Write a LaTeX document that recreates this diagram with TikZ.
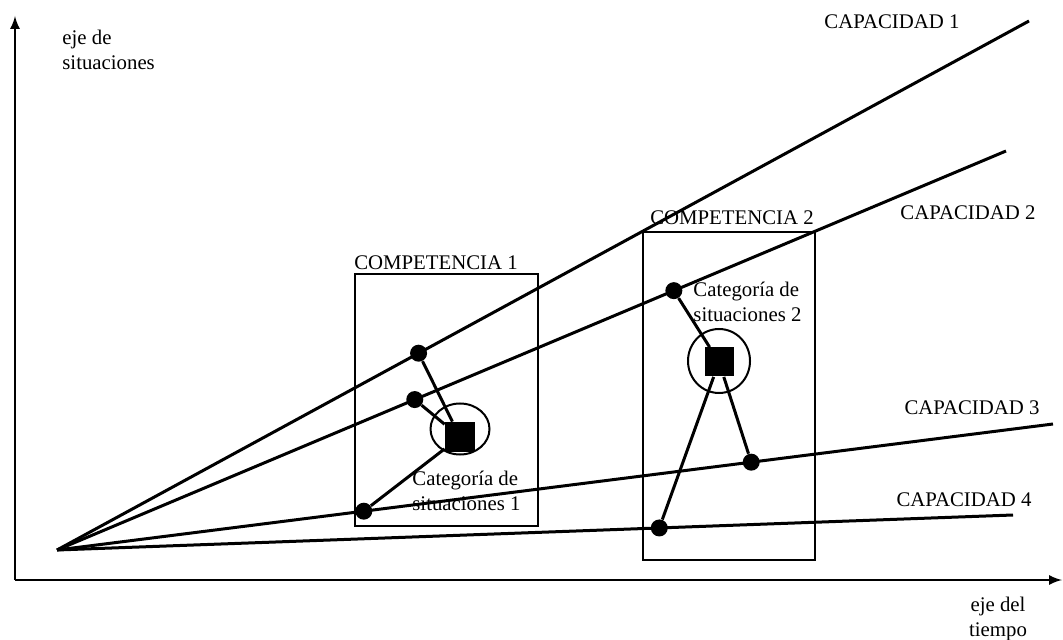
\documentclass[tikz,border=0pt]{standalone}
\usepackage{fontspec}
\setmainfont{Liberation Serif}
\usetikzlibrary{calc,shapes.geometric}

\tikzset{
  capline/.style={line width=1.5pt},
  link/.style={line width=1.5pt},
  dot/.style={circle, fill=black, inner sep=0pt, minimum size=8.5pt},
  catsq/.style={rectangle, fill=black, inner sep=0pt, minimum size=15pt},
  catring/.style={ellipse, draw, line width=1pt, inner sep=0pt},
  compbox/.style={rectangle, draw, line width=1pt, inner sep=0pt},
  lbl/.style={inner sep=0pt, font=\fontsize{10.4}{12.5}\selectfont}
}

\begin{document}
\begin{tikzpicture}[x=0.5pt, y=-0.5pt]
\useasboundingbox (0,0) rectangle (1063,640);
% axes
\coordinate (ax) at (15,580);
\coordinate (ytop) at (15,16);
\coordinate (xend) at (1062,580);
\draw[line width=1.2pt, -latex] (ax) -- (ytop);
\draw[line width=1.2pt, -latex] (ax) -- (xend);
\node[lbl, anchor=west, align=left] (ejesit) at (62,50) {eje de\\situaciones};
\node[lbl, align=center] (ejetie) at (998,619) {eje del\\tiempo};

% capacity lines
\coordinate (O) at (57,550);
\coordinate (c1) at (1029,21);
\coordinate (c2) at (1006,151);
\coordinate (c3) at (1053,424);
\coordinate (c4) at (1013,515);
\draw[capline] (O) -- (c1);
\draw[capline] (O) -- (c2);
\draw[capline] (O) -- (c3);
\draw[capline] (O) -- (c4);
\node[lbl] (cap1) at (892,22) {CAPACIDAD 1};
\node[lbl] (cap2) at (968,213) {CAPACIDAD 2};
\node[lbl] (cap3) at (972,408) {CAPACIDAD 3};
\node[lbl] (cap4) at (964,500) {CAPACIDAD 4};

% competencia 1
\node[compbox, minimum width=91.5pt, minimum height=126pt] (box1) at (446.5,400) {};
\node[lbl] (comp1) at (436,263) {COMPETENCIA 1};
\node[catring, minimum width=29.5pt, minimum height=25.5pt] (ring1) at (460,429) {};
\node[dot] (d11) at ($(O)!0.372!(c1)$) {};
\node[dot] (d12) at ($(O)!0.377!(c2)$) {};
\node[dot] (d13) at ($(O)!0.308!(c3)$) {};
\node[catsq] (sq1) at (460,437) {};
\draw[link] (d11) -- (sq1);
\draw[link] (d12) -- (sq1);
\draw[link] (d13) -- (sq1);
\node[lbl, anchor=west, align=left] (cat1) at (412,491) {Categoría de\\situaciones 1};

% competencia 2
\node[compbox, minimum width=86pt, minimum height=164pt] (box2) at (729,396) {};
\node[lbl] (comp2) at (732,218) {COMPETENCIA 2};
\node[catring, minimum width=31pt, minimum height=32pt] (ring2) at (719,361) {};
\node[dot] (d21) at ($(O)!0.650!(c2)$) {};
\node[dot] (d22) at ($(O)!0.697!(c3)$) {};
\node[dot] (d23) at ($(O)!0.630!(c4)$) {};
\node[catsq, minimum size=14.5pt] (sq2) at (719,362) {};
\draw[link] (d21) -- (sq2);
\draw[link] (sq2) -- (d22);
\draw[link] (sq2) -- (d23);
\node[lbl, anchor=west, align=left] (cat2) at (693,302) {Categoría de\\situaciones 2};
\end{tikzpicture}
\end{document}
